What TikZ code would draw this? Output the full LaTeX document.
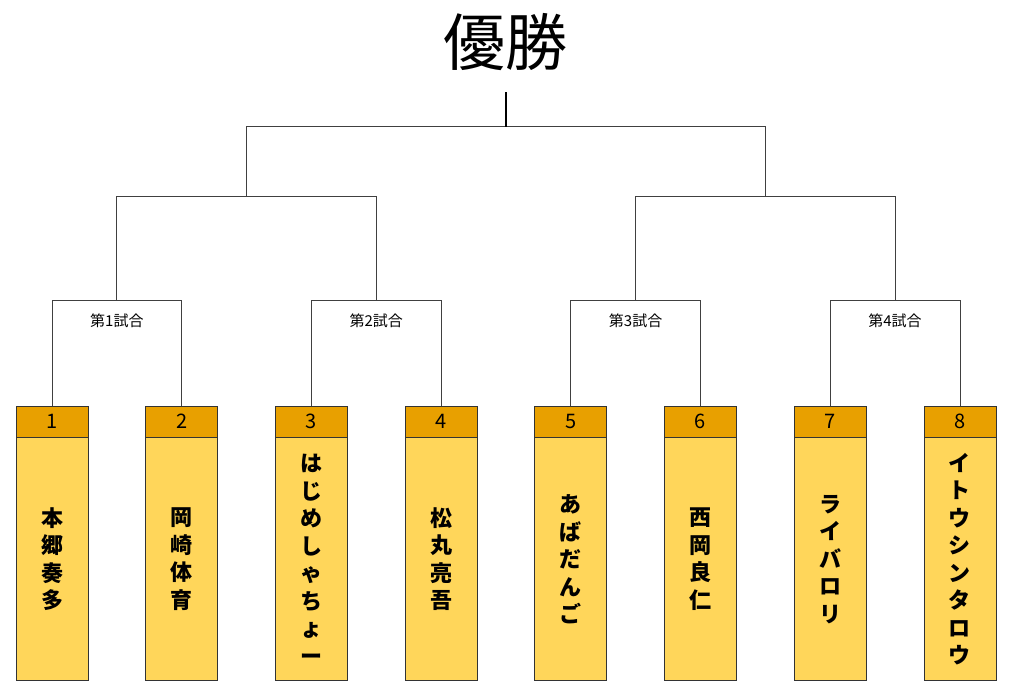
\documentclass[tikz,border=0pt]{standalone}
\usepackage{fontspec}
\newfontfamily\jp{Noto Sans CJK JP}
\usepackage{tikz}
\usetikzlibrary{calc,positioning}
\definecolor{headorange}{RGB}{232,160,0}
\definecolor{bodygold}{RGB}{255,214,90}
\tikzset{every picture/.style={line width=0.8pt},
  headbox/.style={draw=black!80, fill=headorange, minimum width=72pt, minimum height=31pt,
    inner sep=0pt, font=\jp\fontsize{20}{20}\selectfont},
  namebox/.style={draw=black!80, fill=bodygold, minimum width=72pt, minimum height=243pt,
    inner sep=0pt, align=center, font=\jp\bfseries\fontsize{22}{27.5}\selectfont},
  matchlabel/.style={font=\jp\fontsize{15}{15}\selectfont, inner sep=0pt},
  bracket/.style={draw=black!75}}

\begin{document}
\begin{tikzpicture}[x=1pt,y=-1pt]
\useasboundingbox (0,0) rectangle (1010,682);
\node[font=\jp\fontsize{62}{62}\selectfont, inner sep=0pt] (title) at (505,42) {優勝};
% players
\foreach \i/\name in {1/{本\\郷\\奏\\多}, 2/{岡\\崎\\体\\育}, 3/{は\\じ\\め\\し\\ゃ\\ち\\ょ\\ー},
  4/{松\\丸\\亮\\吾}, 5/{あ\\ば\\だ\\ん\\ご}, 6/{西\\岡\\良\\仁}, 7/{ラ\\イ\\バ\\ロ\\リ},
  8/{イ\\ト\\ウ\\シ\\ン\\タ\\ロ\\ウ}}{
  \node[headbox] (h\i) at ({52+129.7*(\i-1)},421.5) {\i};
  \node[namebox, anchor=north] (p\i) at (h\i.south) {\name};
}
% first round
\foreach \m/\a/\b in {1/1/2, 2/3/4, 3/5/6, 4/7/8}{
  \coordinate (m\m) at ($(h\a.north)!0.5!(h\b.north)+(0,-105)$);
  \draw[bracket] (h\a.north) |- (m\m) -| (h\b.north);
  \node[matchlabel] (l\m) at ($(m\m)+(0,20)$) {第\m 試合};
}
% semifinals and final
\coordinate (s1) at ($(m1)!0.5!(m2)+(0,-104)$);
\coordinate (s2) at ($(m3)!0.5!(m4)+(0,-104)$);
\draw[bracket] (m1) |- (s1) -| (m2);
\draw[bracket] (m3) |- (s2) -| (m4);
\coordinate (f) at ($(s1)!0.5!(s2)+(0,-70)$);
\draw[bracket] (s1) |- (f) -| (s2);
\coordinate (top) at ($(f)+(0,-35)$);
\draw[line width=1.4pt] (f) -- (top);
\end{tikzpicture}
\end{document}
